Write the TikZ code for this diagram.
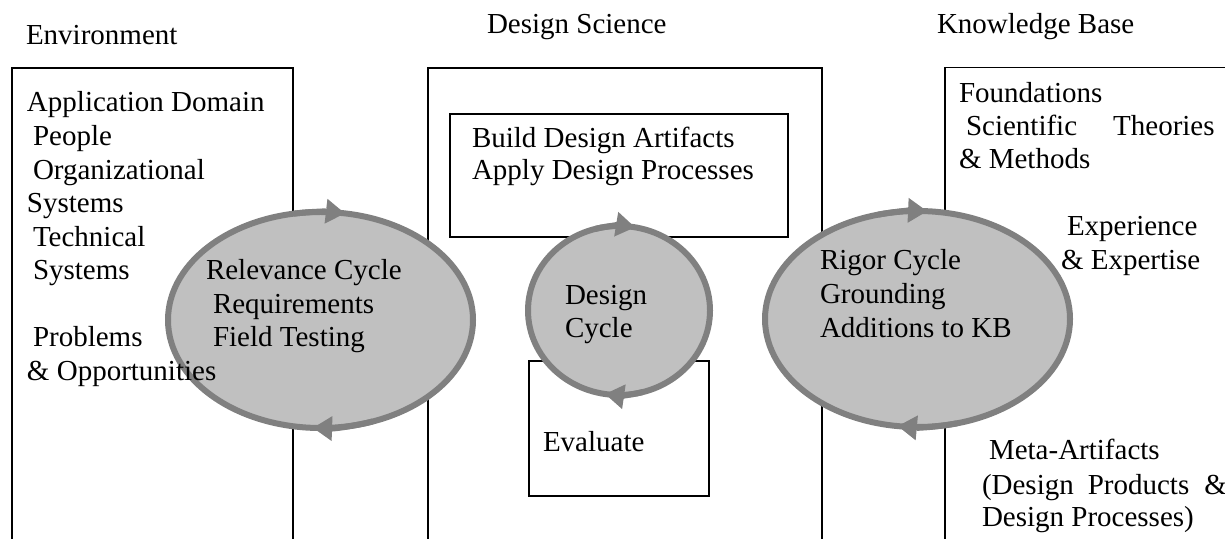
\documentclass[tikz,border=0pt]{standalone}
\usepackage{fontspec}
\setmainfont{Liberation Serif}
\usetikzlibrary{arrows.meta}
\definecolor{cycline}{RGB}{128,128,128}
\definecolor{cycfill}{RGB}{192,192,192}
\tikzset{
  txt/.style={anchor=base west, inner sep=0pt, outer sep=0pt, font=\fontsize{29pt}{33pt}\selectfont},
  boxline/.style={draw=black, line width=1.5pt},
  cyc/.style={draw=cycline, fill=cycfill, line width=6pt},
  cycarrow/.style={draw=cycline, line width=6pt, -{Triangle[length=19pt,width=25pt,line width=0pt]}}
}
\begin{document}
\begin{tikzpicture}[x=1pt,y=1pt]
\useasboundingbox (0,0) rectangle (1225,538);
% boxes
\draw[boxline] (12,-2) |- (293,470) -- (293,-2);
\draw[boxline] (428,-2) |- (822,470) -- (822,-2);
\draw[boxline] (945,-2) |- (1230,470.5);
\draw[boxline] (450,301) rectangle (788,424);
\draw[boxline] (529,42) rectangle (709,177);
% cycle centres
\coordinate (relc) at (320.5,218);
\coordinate (desc) at (619,227.5);
\coordinate (rigc) at (917.5,219);
% ellipses
\draw[cyc] (relc) ellipse[x radius=152.5pt, y radius=108pt];
\draw[cyc] (desc) ellipse[x radius=91pt, y radius=84.5pt];
\draw[cyc] (rigc) ellipse[x radius=152.5pt, y radius=108pt];
% arrowheads
\draw[cycarrow] (relc) ++(100:152.5pt and 108pt) arc[start angle=100, end angle=80.8, x radius=152.5pt, y radius=108pt];
\draw[cycarrow] (relc) ++(290:152.5pt and 108pt) arc[start angle=290, end angle=267.2, x radius=152.5pt, y radius=108pt];
\draw[cycarrow] (desc) ++(105:91pt and 84.5pt) arc[start angle=105, end angle=79.9, x radius=91pt, y radius=84.5pt];
\draw[cycarrow] (desc) ++(285:91pt and 84.5pt) arc[start angle=285, end angle=261.2, x radius=91pt, y radius=84.5pt];
\draw[cycarrow] (rigc) ++(105:152.5pt and 108pt) arc[start angle=105, end angle=86.4, x radius=152.5pt, y radius=108pt];
\draw[cycarrow] (rigc) ++(285:152.5pt and 108pt) arc[start angle=285, end angle=262.6, x radius=152.5pt, y radius=108pt];
% headers
\node[txt] (env) at (26,493) {Environment};
\node[txt] (ds) at (487,504) {Design Science};
\node[txt] (kb) at (937,504) {Knowledge Base};
% environment
\node[txt] (e1) at (27,426) {Application Domain};
\node[txt] (e2) at (33,392) {People};
\node[txt] (e3) at (33,358.5) {Organizational};
\node[txt] (e4) at (27,325) {Systems};
\node[txt] (e5) at (33,291) {Technical};
\node[txt] (e6) at (33,258) {Systems};
\node[txt] (e7) at (33,191) {Problems};
\node[txt] (e8) at (27,157) {\& Opportunities};
% relevance cycle
\node[txt] (r1) at (206,258) {Relevance Cycle};
\node[txt] (r2) at (213,224.5) {Requirements};
\node[txt] (r3) at (213,191) {Field Testing};
% design science
\node[txt] (b1) at (472,390) {Build Design Artifacts};
\node[txt] (b2) at (472,358) {Apply Design Processes};
\node[txt] (d1) at (565,233) {Design};
\node[txt] (d2) at (565,200) {Cycle};
\node[txt] (ev) at (543,87) {Evaluate};
% rigor cycle
\node[txt] (g1) at (820,268) {Rigor Cycle};
\node[txt] (g2) at (820,234.5) {Grounding};
\node[txt] (g3) at (820,200) {Additions to KB};
% knowledge base
\node[txt] (k1) at (959,435.5) {Foundations};
\node[txt] (k2) at (966,402.5) {Scientific\hspace{36pt}Theories};
\node[txt] (k3) at (959,369) {\& Methods};
\node[txt] (k4) at (1067,302) {Experience};
\node[txt] (k5) at (1061,268) {\& Expertise};
\node[txt] (k6) at (989,78.5) {Meta-Artifacts};
\node[txt] (k7) at (982,44) {(Design\hspace{14pt}Products\hspace{15pt}\&};
\node[txt] (k8) at (982,12) {Design Processes)};
\end{tikzpicture}
\end{document}
